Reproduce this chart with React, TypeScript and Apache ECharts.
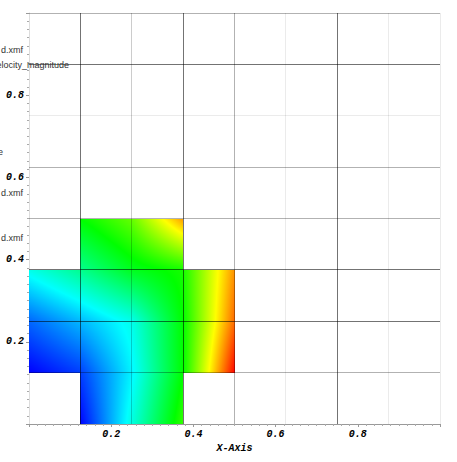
import React, { useEffect, useRef } from "react";
import * as echarts from "echarts";

// Mesh node coordinates (cell corners)
const xNodes = [0, 0.125, 0.25, 0.375, 0.5];
const yNodes = [0, 0.125, 0.25, 0.375, 0.5];

// velocity_magnitude (normalised 0..1) at the nodes, rows from y=0 upwards
const nodeValues: (number | null)[][] = [
  [null, 0.0, 0.28, 0.55, null],
  [0.0, 0.06, 0.24, 0.5, 1.0],
  [0.1, 0.18, 0.27, 0.5, 0.9],
  [0.27, 0.36, 0.47, 0.52, 0.86],
  [null, 0.5, 0.6, 0.85, null],
];

// cells present in the mesh: [column index, row index]
const cells = [
  [1, 0], [2, 0],
  [0, 1], [1, 1], [2, 1], [3, 1],
  [0, 2], [1, 2], [2, 2], [3, 2],
  [1, 3], [2, 3],
];

// wireframe lines: [position, shade]
const verticalLines: [number, string][] = [
  [0.125, "dark"], [0.25, "light"], [0.375, "dark"], [0.5, "mid"],
  [0.625, "faint"], [0.75, "dark"], [0.875, "faint"], [1, "faint"],
];
const horizontalLines: [number, string][] = [
  [0.125, "mid"], [0.25, "dark"], [0.375, "dark"], [0.5, "mid"],
  [0.625, "mid"], [0.75, "faint"], [0.875, "dark"], [1, "mid"],
];

const sideTexts = [
  { text: "d.xmf", x: 1, y: 50, align: "left" },
  { text: "velocity_magnitude", x: 69, y: 65, align: "right" },
  { text: "e", x: 3, y: 152, align: "right" },
  { text: "d.xmf", x: 1, y: 193, align: "left" },
  { text: "d.xmf", x: 1, y: 238, align: "left" },
];

const shadeAlpha: Record<string, number> = { dark: 0.55, mid: 0.3, light: 0.2, faint: 0.08 };
const shadeCode: Record<string, number> = { dark: 0, mid: 1, light: 2, faint: 3 };
const shadeList = ["dark", "mid", "light", "faint"];

const cmapStops: [number, number[]][] = [
  [0, [0, 0, 255]],
  [0.25, [0, 255, 255]],
  [0.5, [0, 255, 0]],
  [0.75, [255, 255, 0]],
  [1, [255, 0, 0]],
];

function cmap(v: number): string {
  const x = Math.max(0, Math.min(1, v));
  for (let i = 0; i < cmapStops.length - 1; i++) {
    const [a, ca] = cmapStops[i];
    const [b, cb] = cmapStops[i + 1];
    if (x <= b) {
      const t = (x - a) / (b - a);
      const c = ca.map((q, k) => Math.round(q + (cb[k] - q) * t));
      return `rgb(${c[0]},${c[1]},${c[2]})`;
    }
  }
  return "rgb(255,0,0)";
}

function gradientStops(a: number, b: number) {
  const stops: { offset: number; color: string }[] = [{ offset: 0, color: cmap(a) }];
  if (Math.abs(b - a) > 1e-9) {
    const knots = cmapStops.map((s) => s[0]);
    const cross: number[] = [];
    for (const k of knots) {
      const s = (k - a) / (b - a);
      if (s > 0 && s < 1) cross.push(s);
    }
    cross.sort((p, q) => p - q);
    for (const s of cross) stops.push({ offset: s, color: cmap(a + (b - a) * s) });
  }
  stops.push({ offset: 1, color: cmap(b) });
  return stops;
}

const cellData = cells.map(([i, j]) => [
  xNodes[i], yNodes[j], xNodes[i + 1], yNodes[j + 1],
  nodeValues[j][i] as number, nodeValues[j][i + 1] as number,
  nodeValues[j + 1][i] as number, nodeValues[j + 1][i + 1] as number,
]);

const tickFont = {
  fontFamily: "'Liberation Mono', 'DejaVu Sans Mono', monospace",
  fontWeight: "bold" as const,
  fontStyle: "italic" as const,
  fontSize: 10,
  color: "#000",
};

export default function App() {
  const ref = useRef<HTMLDivElement>(null);
  useEffect(() => {
    if (!ref.current) return;
    const chart = echarts.init(ref.current, undefined, { renderer: "svg" });
    const option: any = {
      animation: false,
      backgroundColor: "#fff",
      grid: { left: 29, top: 13, width: 411, height: 411, containLabel: false },
      xAxis: {
        type: "value",
        min: 0,
        max: 1,
        interval: 0.2,
        name: "X-Axis",
        nameLocation: "middle",
        nameGap: 14,
        nameTextStyle: { ...tickFont },
        axisLine: { show: true, lineStyle: { color: "#999", width: 1 } },
        axisTick: { show: true, length: 3, lineStyle: { color: "#999" } },
        minorTick: { show: true, splitNumber: 10, length: 2, lineStyle: { color: "#aaa" } },
        axisLabel: {
          ...tickFont,
          margin: 5,
          formatter: (v: number) => (v > 0.01 && v < 0.99 ? v.toFixed(1) : ""),
        },
        splitLine: { show: false },
        minorSplitLine: { show: false },
      },
      yAxis: {
        type: "value",
        min: 0,
        max: 1,
        interval: 0.2,
        axisLine: { show: true, lineStyle: { color: "#ddd", width: 1 } },
        axisTick: { show: true, length: 3, lineStyle: { color: "#999" } },
        minorTick: { show: true, splitNumber: 10, length: 2, lineStyle: { color: "#aaa" } },
        axisLabel: {
          ...tickFont,
          margin: 5,
          formatter: (v: number) => (v > 0.01 && v < 0.99 ? v.toFixed(1) : ""),
        },
        splitLine: { show: false },
      },
      graphic: sideTexts.map((t) => ({
        type: "text",
        x: t.x,
        y: t.y,
        z: 100,
        style: {
          text: t.text,
          fill: "#333",
          font: "9px 'Liberation Sans', Arial, sans-serif",
          align: t.align,
          verticalAlign: "middle",
        },
      })),
      series: [
        {
          type: "custom",
          name: "velocity_magnitude",
          silent: true,
          z: 1,
          encode: { x: [0, 2], y: [1, 3] },
          data: cellData,
          renderItem: (params: any, api: any) => {
            const x0 = api.value(0), y0 = api.value(1), x1 = api.value(2), y1 = api.value(3);
            const v00 = api.value(4), v10 = api.value(5), v01 = api.value(6), v11 = api.value(7);
            const pBL = api.coord([x0, y0]);
            const pTR = api.coord([x1, y1]);
            const left = Math.round(pBL[0]);
            const right = Math.round(pTR[0]);
            const top = Math.round(pTR[1]);
            const bottom = Math.round(pBL[1]);
            const children: any[] = [];
            const hTot = pBL[1] - pTR[1];
            for (let r = top; r < bottom; r++) {
              const t = Math.max(0, Math.min(1, (pBL[1] - (r + 0.5)) / hTot));
              const a = v00 + (v01 - v00) * t;
              const b = v10 + (v11 - v10) * t;
              children.push({
                type: "rect",
                shape: { x: left, y: r, width: right - left, height: 1 },
                style: { fill: new echarts.graphic.LinearGradient(0, 0, 1, 0, gradientStops(a, b)) },
              });
            }
            return { type: "group", children };
          },
        },
        {
          type: "custom",
          name: "vlines",
          silent: true,
          z: 5,
          encode: { x: 0 },
          data: verticalLines.map(([v, s]) => [v, shadeCode[s]]),
          renderItem: (params: any, api: any) => {
            const x = api.value(0);
            const shade = shadeList[api.value(1)];
            const pb = api.coord([x, 0]);
            const pt = api.coord([x, 1]);
            const px = Math.floor(pb[0]) + 0.5;
            return {
              type: "line",
              shape: { x1: px, y1: pt[1], x2: px, y2: pb[1] },
              style: { stroke: `rgba(0,0,0,${shadeAlpha[shade]})`, lineWidth: 1 },
            };
          },
        },
        {
          type: "custom",
          name: "hlines",
          silent: true,
          z: 5,
          encode: { y: 0 },
          data: horizontalLines.map(([v, s]) => [v, shadeCode[s]]),
          renderItem: (params: any, api: any) => {
            const y = api.value(0);
            const shade = shadeList[api.value(1)];
            const pl = api.coord([0, y]);
            const pr = api.coord([1, y]);
            const py = Math.floor(pl[1]) + 0.5;
            return {
              type: "line",
              shape: { x1: pl[0], y1: py, x2: pr[0], y2: py },
              style: { stroke: `rgba(0,0,0,${shadeAlpha[shade]})`, lineWidth: 1 },
            };
          },
        },
      ],
    };
    chart.setOption(option);
    return () => chart.dispose();
  }, []);
  return (
    <div
      ref={ref}
      style={{ position: "absolute", left: 0, top: 0, width: 457, height: 462, overflow: "hidden" }}
    />
  );
}
